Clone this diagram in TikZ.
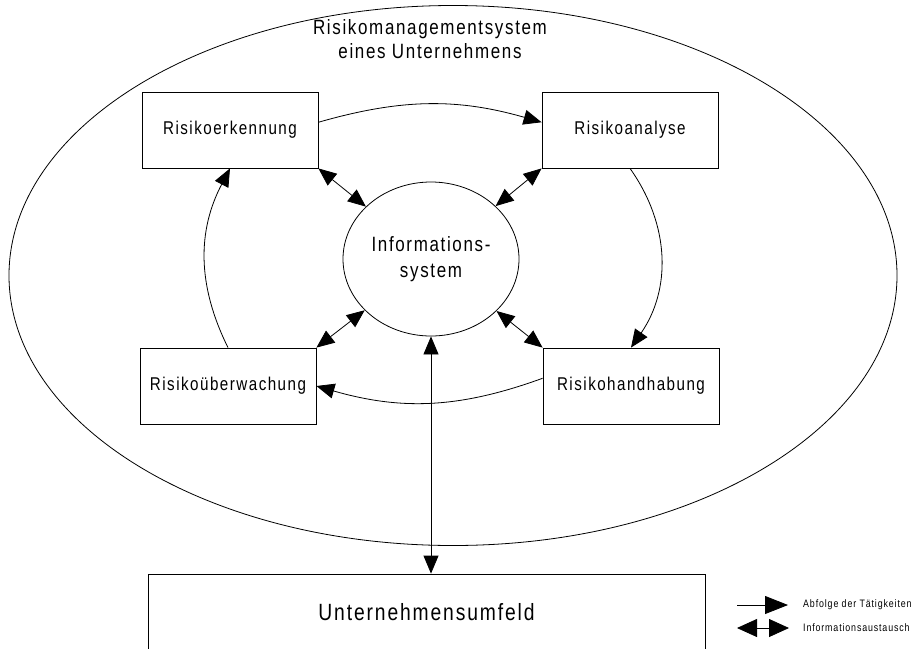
\documentclass[tikz,border=0pt]{standalone}
\usepackage{fontspec}
\setmainfont{Liberation Sans}[FakeStretch=0.82, LetterSpace=8]
\usetikzlibrary{arrows.meta,shapes.geometric}

\tikzset{
  stagebox/.style={draw, line width=0.8pt, minimum width=176pt, minimum height=76pt,
    inner sep=0pt, font=\fontsize{18.5}{20}\selectfont},
  flow/.style={line width=0.8pt, -{Triangle[length=18pt,width=15pt]}},
  xchg/.style={line width=0.8pt, {Triangle[length=18pt,width=15pt]}-{Triangle[length=18pt,width=15pt]}},
  keyflow/.style={line width=0.8pt, -{Triangle[length=23pt,width=18pt]}},
  keyxchg/.style={line width=0.8pt, {Triangle[length=20pt,width=18pt]}-{Triangle[length=20pt,width=18pt]}},
  keytext/.style={anchor=west, inner sep=0pt, font=\fontsize{10.8}{12}\selectfont},
}

\begin{document}
\begin{tikzpicture}[x=1pt,y=-1pt]
\useasboundingbox (0,0) rectangle (912,648);

% outer system boundary
\node[ellipse, draw, line width=0.8pt, minimum width=888pt, minimum height=540pt, inner sep=0pt] (rms) at (453,275.5) {};
\node[align=center, font=\fontsize{20.7}{24}\selectfont] (title) at (430,39)
  {Risikomanagementsystem\\eines Unternehmens};

% process stages
\node[stagebox] (erk) at (230,130) {Risikoerkennung};
\node[stagebox] (ana) at (630,130) {Risikoanalyse};
\node[stagebox] (ueb) at (228,386) {Risikoüberwachung};
\node[stagebox] (han) at (631,386) {Risikohandhabung};

% central information system
\node[ellipse, draw, line width=0.8pt, minimum width=176pt, minimum height=154pt, inner sep=0pt,
  align=center, font=\fontsize{20.7}{26}\selectfont] (info) at (431,259) {Informations-\\system};

% company environment (runs off the lower edge)
\node[draw, line width=0.8pt, minimum width=557pt, minimum height=76pt, inner sep=0pt,
  font=\fontsize{23.5}{25}\selectfont] (umf) at (426.5,612) {Unternehmensumfeld};

% sequence of activities
\draw[flow] (erk.5) to[bend left=16] (ana.175);
\draw[flow] (ana.south) to[bend left=35] (han.north);
\draw[flow] (han.175) to[bend left=18] (ueb.east);
\draw[flow] (ueb.north) to[bend left=27] (erk.south);

% information exchange
\draw[xchg] (erk.south east) -- (info);
\draw[xchg] (ana.south west) -- (info);
\draw[xchg] (ueb.north east) -- (info);
\draw[xchg] (han.north west) -- (info);
\draw[xchg] (info.south) -- (umf.north -| info.south);

% key
\coordinate (ka) at (737,605);
\coordinate (kb) at (788,605);
\coordinate (kc) at (737,628);
\coordinate (kd) at (789,628);
\draw[keyflow] (ka) -- (kb);
\draw[keyxchg] (kc) -- (kd);
\node[keytext] (kt1) at (803,605) {Abfolge der Tätigkeiten};
\node[keytext] (kt2) at (803,628) {Informationsaustausch};
\end{tikzpicture}
\end{document}
